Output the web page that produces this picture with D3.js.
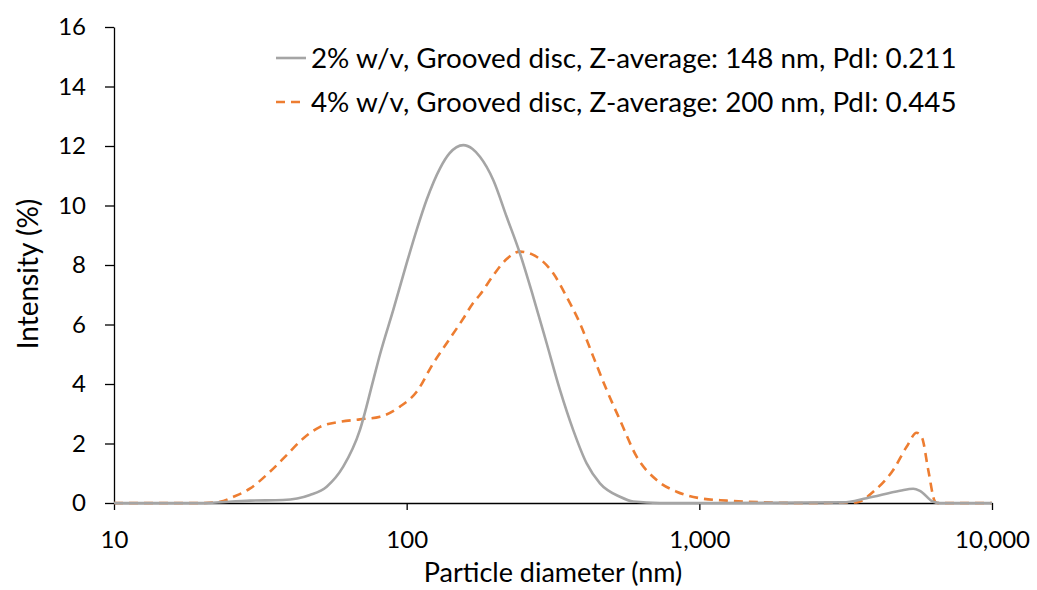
<!DOCTYPE html>
<html>
<head>
<meta charset="utf-8">
<script src="https://cdn.jsdelivr.net/npm/d3@7"></script>
<style>
  html, body { margin: 0; padding: 0; background: #fff; }
  svg text { font-family: Lato, "Open Sans", sans-serif; fill: #000; }
</style>
</head>
<body>
<div id="chart"></div>
<script>
// particle diameter (nm) and intensity (%)
const diam2 = [10, 19.7, 29.2, 37.8, 46.7, 53.3, 60.7, 69.2, 76.9, 81.1, 90, 100, 108.2, 117.1, 130, 140, 156.1, 168, 178, 197.6, 219.6, 243.8, 270.7, 300.8, 334, 370.8, 412.1, 457.5, 535.6, 594.6, 733.6, 3095, 3729, 4845, 5380, 5672, 6298, 6637, 10000];
const int2 = [0, 0, 0.08, 0.1, 0.27, 0.55, 1.22, 2.45, 4.13, 5.0, 6.49, 8.06, 9.18, 10.2, 11.25, 11.75, 12.03, 11.9, 11.64, 10.86, 9.62, 8.39, 6.93, 5.37, 3.8, 2.45, 1.33, 0.66, 0.21, 0.05, 0, 0.02, 0.16, 0.41, 0.48, 0.41, 0.04, 0, 0];

const diam4 = [10, 19.7, 23, 25.6, 29.2, 34.1, 38.9, 44.3, 50.6, 59.2, 69.2, 81.1, 94.9, 108.2, 123.3, 137, 156.1, 168, 178, 197.6, 219.6, 243.8, 270.7, 316.8, 352.1, 390.9, 434.1, 482.3, 535.6, 610.7, 714.8, 836.6, 1005, 1239, 1611, 2207, 3446, 3928, 4597, 5108, 5527, 5763, 6056, 6383, 6500, 10000];
const int4 = [0, 0, 0.04, 0.21, 0.49, 1.05, 1.61, 2.17, 2.56, 2.73, 2.81, 2.9, 3.24, 3.74, 4.7, 5.37, 6.2, 6.7, 7.0, 7.65, 8.2, 8.45, 8.34, 7.72, 6.93, 6.04, 4.92, 3.8, 2.79, 1.56, 0.77, 0.38, 0.16, 0.08, 0.03, 0, 0.02, 0.38, 1.11, 1.89, 2.36, 2.2, 1.11, 0.05, 0, 0];

const seriesNames = [
  '2% w/v, Grooved disc, Z-average: 148 nm, PdI: 0.211',
  '4% w/v, Grooved disc, Z-average: 200 nm, PdI: 0.445'
];
const xTicks = [10, 100, 1000, 10000];
const yTicks = [0, 2, 4, 6, 8, 10, 12, 14, 16];

const width = 1037, height = 590;
const margin = {top: 27, right: 45, bottom: 87, left: 114};

const svg = d3.select('#chart').append('svg')
  .attr('width', width)
  .attr('height', height);

let x = d3.scaleLog()
  .domain([10, 10000])
  .range([margin.left, width - margin.right]);

let y = d3.scaleLinear()
  .domain([0, 16])
  .range([height - margin.bottom, margin.top]);

// axes
svg.append('g')
  .attr('transform', `translate(0,${height - margin.bottom})`)
  .call(d3.axisBottom(x).tickValues(xTicks).tickFormat(d3.format(',')).tickSize(7).tickSizeOuter(0))
  .call(g => g.select('.domain').attr('stroke', '#000').attr('stroke-width', 1.3))
  .call(g => g.selectAll('.tick line').attr('stroke', '#000').attr('stroke-width', 1.3))
  .call(g => g.selectAll('.tick text').attr('font-size', 24).attr('dy', '1.45em'));

svg.append('g')
  .attr('transform', `translate(${margin.left},0)`)
  .call(d3.axisLeft(y).tickValues(yTicks).tickSize(9).tickSizeOuter(0))
  .call(g => g.select('.domain').attr('stroke', '#000').attr('stroke-width', 1.3))
  .call(g => g.selectAll('.tick line').attr('stroke', '#000').attr('stroke-width', 1.3))
  .call(g => g.selectAll('.tick text').attr('font-size', 24).attr('x', -28));

// axis titles
svg.append('text')
  .attr('x', 553)
  .attr('y', 582)
  .attr('text-anchor', 'middle')
  .attr('font-size', 27)
  .text('Particle diameter (nm)');

svg.append('text')
  .attr('transform', `translate(38,${(margin.top + height - margin.bottom) / 2 + 9}) rotate(-90)`)
  .attr('text-anchor', 'middle')
  .attr('font-size', 28)
  .text('Intensity (%)');

let line = d3.line()
  .x(d => x(d[0]))
  .y(d => y(d[1]))
  .curve(d3.curveMonotoneX);

const data2 = d3.zip(diam2, int2);
const data4 = d3.zip(diam4, int4);

svg.append('path')
  .datum(data4)
  .attr('fill', 'none')
  .attr('stroke', '#ED7D31')
  .attr('stroke-width', 2.6)
  .attr('stroke-dasharray', '9,6')
  .attr('d', line);

svg.append('path')
  .datum(data2)
  .attr('fill', 'none')
  .attr('stroke', '#A5A5A5')
  .attr('stroke-width', 2.6)
  .attr('d', line);

// legend
const legend = svg.append('g');
const legendRows = [
  {name: seriesNames[0], color: '#A5A5A5', dash: null, y: 58},
  {name: seriesNames[1], color: '#ED7D31', dash: '9,6', y: 102}
];
legendRows.forEach(r => {
  legend.append('line')
    .attr('x1', 276).attr('x2', 306)
    .attr('y1', r.y).attr('y2', r.y)
    .attr('stroke', r.color)
    .attr('stroke-width', 2.6)
    .attr('stroke-dasharray', r.dash);
  legend.append('text')
    .attr('x', 311)
    .attr('y', r.y)
    .attr('dy', '0.35em')
    .attr('font-size', 27.8)
    .text(r.name);
});
</script>
</body>
</html>
